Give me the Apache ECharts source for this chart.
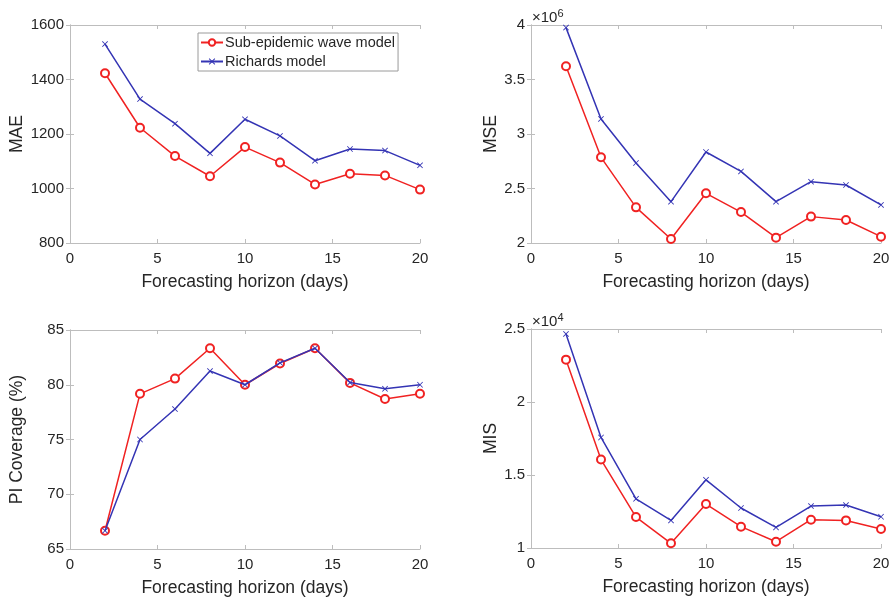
<!DOCTYPE html>
<html>
<head>
<meta charset="utf-8">
<script src="https://cdn.jsdelivr.net/npm/echarts@6/dist/echarts.min.js"></script>
<style>html,body{margin:0;padding:0;background:#fff;}#c{width:896px;height:601px;}</style>
</head>
<body>
<div id="c"></div>
<script>
const horizons = [2, 4, 6, 8, 10, 12, 14, 16, 18, 20];
const seriesNames = ['Sub-epidemic wave model', 'Richards model'];

const maeSub = [1423, 1223, 1119, 1045, 1152, 1095, 1015, 1054, 1048, 996];
const maeRich = [1530, 1328, 1238, 1129, 1254, 1193, 1102, 1145, 1139, 1085];

const mseSub = [3.621e6, 2.786e6, 2.327e6, 2.037e6, 2.456e6, 2.284e6, 2.049e6, 2.242e6, 2.211e6, 2.058e6];
const mseRich = [3.976e6, 3.138e6, 2.734e6, 2.379e6, 2.835e6, 2.657e6, 2.379e6, 2.563e6, 2.532e6, 2.349e6];

const covSub = [66.67, 79.17, 80.56, 83.33, 80.0, 81.94, 83.33, 80.17, 78.7, 79.17];
const covRich = [66.67, 75.0, 77.78, 81.25, 80.0, 82.0, 83.33, 80.2, 79.63, 80.0];

const misSub = [2.29e4, 1.606e4, 1.212e4, 1.032e4, 1.301e4, 1.146e4, 1.043e4, 1.194e4, 1.189e4, 1.130e4];
const misRich = [2.466e4, 1.757e4, 1.337e4, 1.189e4, 1.467e4, 1.274e4, 1.141e4, 1.287e4, 1.294e4, 1.214e4];

const RED = '#f02222';
const BLUE = '#3434b4';
const TXT = '#262626';
const BOX = '#bdbdbd';
const FONT = 'Liberation Sans, Arial, Helvetica, sans-serif';
const XSYM = 'path://M0,1L1,0L5,4L9,0L10,1L6,5L10,9L9,10L5,6L1,10L0,9L4,5Z';

const grids = [
  {left: 70, top: 25, width: 350, height: 218},
  {left: 531, top: 25, width: 350, height: 218},
  {left: 70, top: 330, width: 350, height: 219},
  {left: 531, top: 329, width: 350, height: 219}
];
const yCfg = [
  {name: 'MAE', min: 800, max: 1600, interval: 200, gap: 44, fmt: v => String(v)},
  {name: 'MSE', min: 2e6, max: 4e6, interval: 5e5, gap: 30, fmt: v => String(Math.round(v / 1e5) / 10)},
  {name: 'PI Coverage (%)', min: 65, max: 85, interval: 5, gap: 44, fmt: v => String(v)},
  {name: 'MIS', min: 1e4, max: 2.5e4, interval: 5e3, gap: 30, fmt: v => String(Math.round(v / 1e3) / 10)}
];
const dataSets = [[maeSub, maeRich], [mseSub, mseRich], [covSub, covRich], [misSub, misRich]];

const xAxes = [], yAxes = [], series = [];
grids.forEach((g, i) => {
  xAxes.push({
    type: 'value', gridIndex: i, min: 0, max: 20, interval: 5,
    name: 'Forecasting horizon (days)', nameLocation: 'middle', nameGap: 30,
    nameTextStyle: {color: TXT, fontSize: 17.5, fontFamily: FONT},
    axisLine: {show: true, lineStyle: {color: BOX}},
    axisTick: {show: true, inside: true, length: 4, lineStyle: {color: BOX}},
    axisLabel: {color: TXT, fontSize: 15, fontFamily: FONT, margin: 8},
    splitLine: {show: false}
  });
  xAxes.push({
    type: 'value', gridIndex: i, min: 0, max: 20, interval: 5, position: 'top',
    axisLine: {show: true, lineStyle: {color: BOX}},
    axisTick: {show: true, inside: true, length: 4, lineStyle: {color: BOX}},
    axisLabel: {show: false}, splitLine: {show: false}
  });
  const c = yCfg[i];
  yAxes.push({
    type: 'value', gridIndex: i, min: c.min, max: c.max, interval: c.interval,
    name: c.name, nameLocation: 'middle', nameGap: c.gap,
    nameTextStyle: {color: TXT, fontSize: 17.5, fontFamily: FONT},
    axisLine: {show: true, lineStyle: {color: BOX}},
    axisTick: {show: true, inside: true, length: 4, lineStyle: {color: BOX}},
    axisLabel: {color: TXT, fontSize: 15, fontFamily: FONT, margin: 6, formatter: c.fmt},
    splitLine: {show: false}
  });
  yAxes.push({
    type: 'value', gridIndex: i, min: c.min, max: c.max, interval: c.interval, position: 'right',
    axisLine: {show: true, lineStyle: {color: BOX}},
    axisTick: {show: true, inside: true, length: 4, lineStyle: {color: BOX}},
    axisLabel: {show: false}, splitLine: {show: false}
  });
  const [sub, rich] = dataSets[i];
  series.push({
    name: seriesNames[0], type: 'line', xAxisIndex: 2 * i, yAxisIndex: 2 * i,
    data: horizons.map((h, k) => [h, sub[k]]),
    symbol: 'emptyCircle', symbolSize: 8,
    lineStyle: {color: RED, width: 1.5},
    itemStyle: {color: RED, borderColor: RED, borderWidth: 1},
    z: 3
  });
  series.push({
    name: seriesNames[1], type: 'line', xAxisIndex: 2 * i, yAxisIndex: 2 * i,
    data: horizons.map((h, k) => [h, rich[k]]),
    symbol: XSYM, symbolSize: 6,
    lineStyle: {color: BLUE, width: 1.5},
    itemStyle: {color: BLUE},
    z: 4
  });
});

const chart = echarts.init(document.getElementById('c'), null, {renderer: 'canvas'});
chart.setOption({
  backgroundColor: '#ffffff',
  animation: false,
  title: [
    {text: '×10{s|6}', left: 527, top: 3, textStyle: {color: TXT, fontSize: 15, fontWeight: 'normal', fontFamily: FONT, rich: {s: {fontSize: 11, verticalAlign: 'top', padding: [0, 0, 8, 0], color: TXT, fontFamily: FONT}}}},
    {text: '×10{s|4}', left: 527, top: 307, textStyle: {color: TXT, fontSize: 15, fontWeight: 'normal', fontFamily: FONT, rich: {s: {fontSize: 11, verticalAlign: 'top', padding: [0, 0, 8, 0], color: TXT, fontFamily: FONT}}}}
  ],
  legend: {
    show: true, data: seriesNames, orient: 'vertical', left: 198, top: 33,
    itemWidth: 22, itemHeight: 8, itemGap: 4,
    padding: [2, 3, 2, 2],
    borderColor: '#9a9a9a', borderWidth: 1, backgroundColor: '#ffffff',
    textStyle: {color: TXT, fontSize: 14.5, fontFamily: FONT, padding: [0, 0, 0, -3]}
  },
  grid: grids.map(g => Object.assign({show: true, borderColor: BOX, borderWidth: 0, backgroundColor: 'transparent'}, g)),
  xAxis: xAxes,
  yAxis: yAxes,
  series: series
});
</script>
</body>
</html>
